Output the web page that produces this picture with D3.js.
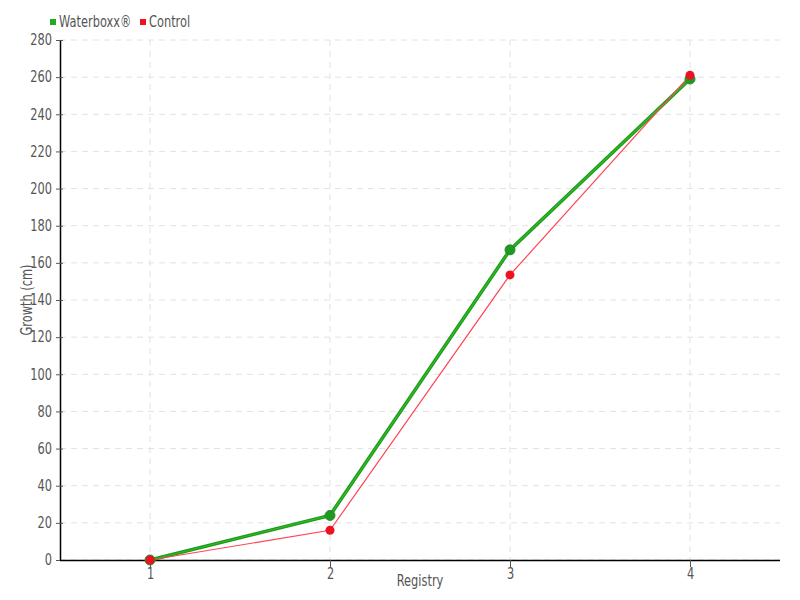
<!DOCTYPE html>
<html><head><meta charset="utf-8">
<script src="https://cdn.jsdelivr.net/npm/d3@7"></script>
<style>
body{margin:0;background:#fff;}
text{font-family:"DejaVu Sans",sans-serif;}
</style></head><body>
<svg id="c" width="800" height="600"></svg>
<script>
const categories = [1, 2, 3, 4];
const waterboxx = [0, 24, 167, 259];
const control = [0, 16, 153.5, 261];
const yTicks = [0,20,40,60,80,100,120,140,160,180,200,220,240,260,280];
const seriesNames = ["Waterboxx®", "Control"];

const svg = d3.select("#c");
const m = {l:60, r:20, t:40, b:40};
const W = 800, H = 600;
const S = 0.76; // horizontal condensing of text
const FS = "15px";
const x = d3.scaleLinear().domain([0.5, 4.5]).range([m.l, W - m.r]);
const y = d3.scaleLinear().domain([0, 280]).range([H - m.b, m.t]);

function condense(sel) {
  sel.each(function() {
    const t = d3.select(this);
    const xv = +(t.attr("x") || 0);
    const tr = t.attr("transform") || "";
    t.attr("x", xv / S).attr("transform", tr + ` scale(${S},1)`);
  });
}

// grid
svg.append("g").selectAll("line").data(yTicks).join("line")
  .attr("x1", m.l).attr("x2", W - m.r)
  .attr("y1", d => y(d)).attr("y2", d => y(d))
  .attr("stroke", "#e2e2e2").attr("stroke-dasharray", "6,5");
svg.append("g").selectAll("line").data(categories).join("line")
  .attr("x1", d => x(d)).attr("x2", d => x(d))
  .attr("y1", m.t).attr("y2", H - m.b)
  .attr("stroke", "#e2e2e2").attr("stroke-dasharray", "6,5");

// axes
const yAxis = svg.append("g").attr("transform", `translate(${m.l},0)`)
  .call(d3.axisLeft(y).tickValues(yTicks).tickSize(4).tickPadding(4));
yAxis.selectAll(".tick line").attr("x2", -4).attr("x1", 3);
const xAxis = svg.append("g").attr("transform", `translate(0,${H - m.b})`)
  .call(d3.axisBottom(x).tickValues(categories).tickFormat(d3.format("d")).tickSize(7).tickPadding(1).tickSizeOuter(0));
[yAxis, xAxis].forEach(a => {
  a.select(".domain").attr("stroke", "#000").attr("stroke-width", 1.5);
  a.selectAll(".tick line").attr("stroke", "#555");
  a.selectAll(".tick text").attr("fill", "#555").style("font-size", FS).call(condense);
});
xAxis.select(".domain").attr("d", `M${m.l},0.5H${W - m.r}`);
yAxis.select(".domain").attr("d", `M0.5,${m.t}V${H - m.b}`);

svg.append("text").attr("transform", "translate(420,586)").attr("text-anchor", "middle")
  .attr("fill", "#555").style("font-size", FS).text("Registry").call(condense);
svg.append("text").attr("transform", "translate(32,300) rotate(-90)").attr("text-anchor", "middle")
  .attr("fill", "#555").style("font-size", FS).text("Growth (cm)").call(condense);

const line = d3.line().x((d, i) => x(categories[i])).y(d => y(d));
svg.append("path").datum(waterboxx).attr("d", line).attr("fill", "none")
  .attr("stroke", "#1c9a1c").attr("stroke-width", 3.5);
svg.append("path").datum(waterboxx).attr("d", line).attr("fill", "none")
  .attr("stroke", "#33bb22").attr("stroke-width", 1.2);
svg.append("path").datum(control).attr("d", line).attr("fill", "none")
  .attr("stroke", "#ff4455").attr("stroke-width", 1.2);

svg.append("g").selectAll("circle").data(waterboxx).join("circle")
  .attr("cx", (d, i) => x(categories[i])).attr("cy", d => y(d)).attr("r", 5)
  .attr("fill", "#1e9a1e").attr("stroke", "#2b8a2b").attr("stroke-width", 1);
svg.append("g").selectAll("circle").data(control).join("circle")
  .attr("cx", (d, i) => x(categories[i])).attr("cy", d => y(d)).attr("r", 4.5)
  .attr("fill", "#ee1122");

// legend
const colors = ["#22aa22", "#ee1122"];
const lx = [50, 140];
const lg = svg.append("g");
seriesNames.forEach((n, i) => {
  lg.append("rect").attr("x", lx[i]).attr("y", 19).attr("width", 6).attr("height", 6).attr("fill", colors[i]);
  lg.append("text").attr("transform", `translate(${lx[i] + 9},27)`).attr("fill", "#555")
    .style("font-size", FS).text(n).call(condense);
});
</script></body></html>
